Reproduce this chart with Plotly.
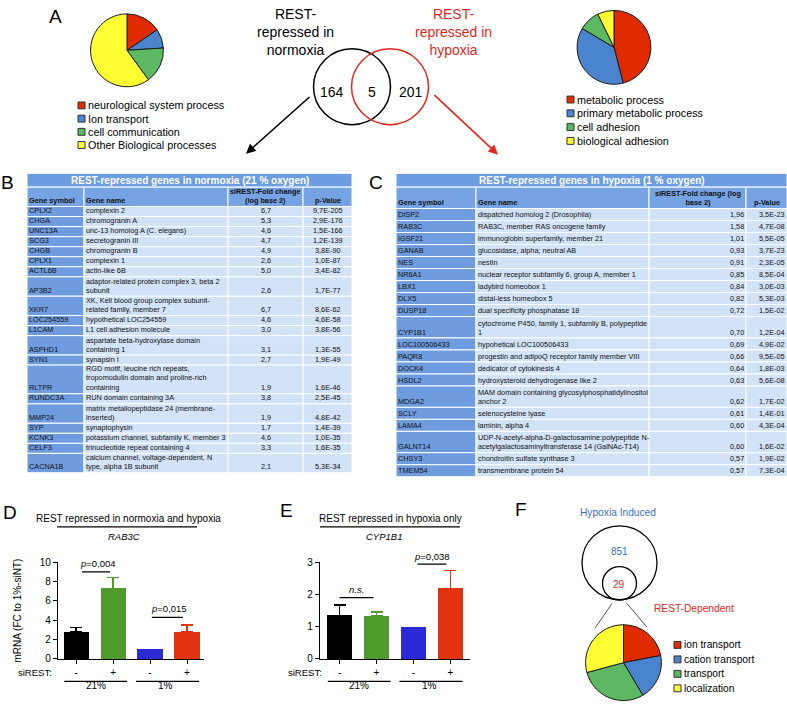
import plotly.graph_objects as go

W, H = 787, 708
FONT = "Liberation Sans, Arial, Helvetica, sans-serif"

# ---------------- data ----------------
a_left_labels = ["neurological system process", "Ion transport", "cell communication", "Other Biological processes"]
a_left_values = [15.5, 8.5, 16.0, 60.0]
a_right_labels = ["metabolic process", "primary metabolic process", "cell adhesion", "biological adhesion"]
a_right_values = [46.0, 37.5, 9.3, 7.2]
venn_counts = [164, 5, 201]

b_title = "REST-repressed genes in normoxia (21 % oxygen)"
b_header = ["Gene symbol", "Gene name", "siREST-Fold change<br>(log base 2)", "p-Value"]
b_symbols = ["CPLX2", "CHGA", "UNC13A", "SCG3", "CHGB", "CPLX1", "ACTL6B", "AP3B2", "XKR7", "LOC254559",
             "L1CAM", "ASPHD1", "SYN1", "RLTPR", "RUNDC3A", "MMP24", "SYP", "KCNK3", "CELF3", "CACNA1B"]
b_names = ["complexin 2", "chromogranin A", "unc-13 homolog A (C. elegans)", "secretogranin III",
           "chromogranin B", "complexin 1", "actin-like 6B",
           "adaptor-related protein complex 3, beta 2<br>subunit",
           "XK, Kell blood group complex subunit-<br>related family, member 7",
           "hypothetical LOC254559", "L1 cell adhesion molecule",
           "aspartate beta-hydroxylase domain<br>containing 1", "synapsin I",
           "RGD motif, leucine rich repeats,<br>tropomodulin domain and proline-rich<br>containing",
           "RUN domain containing 3A", "matrix metallopeptidase 24 (membrane-<br>inserted)",
           "synaptophysin", "potassium channel, subfamily K, member 3",
           "trinucleotide repeat containing 4",
           "calcium channel, voltage-dependent, N<br>type, alpha 1B subunit"]
b_fc = ["6,7", "5,3", "4,6", "4,7", "4,9", "2,6", "5,0", "2,6", "6,7", "4,6",
        "3,0", "3,1", "2,7", "1,9", "3,8", "1,9", "1,7", "4,6", "3,3", "2,1"]
b_p = ["9,7E-205", "2,9E-176", "1,5E-166", "1,2E-139", "3,8E-90", "1,0E-87", "3,4E-82", "1,7E-77",
       "8,6E-62", "4,6E-58", "3,8E-56", "1,3E-55", "1,9E-49", "1,6E-46", "2,5E-45", "4,8E-42",
       "1,4E-39", "1,0E-35", "1,6E-35", "5,3E-34"]

c_title = "REST-repressed genes in hypoxia (1 % oxygen)"
c_header = ["Gene symbol", "Gene name", "siREST-Fold change (log<br>base 2)", "p-Value"]
c_symbols = ["DISP2", "RAB3C", "IGSF21", "GANAB", "NES", "NR6A1", "LBX1", "DLX5", "DUSP18", "CYP1B1",
             "LOC100506433", "PAQR8", "DOCK4", "HSDL2", "MDGA2", "SCLY", "LAMA4", "GALNT14", "CHSY3", "TMEM54"]
c_names = ["dispatched homolog 2 (Drosophila)", "RAB3C, member RAS oncogene family",
           "immunoglobin superfamily, member 21", "glucosidase, alpha; neutral AB", "nestin",
           "nuclear receptor subfamily 6, group A, member 1", "ladybird homeobox 1",
           "distal-less homeobox 5", "dual specificity phosphatase 18",
           "cytochrome P450, family 1, subfamily B, polypeptide<br>1",
           "hypohetical LOC100506433", "progestin and adipoQ receptor family member VIII",
           "dedicator of cytokinesis 4", "hydroxysteroid dehydrogenase like 2",
           "MAM domain containing glycosylphosphatidylinositol<br>anchor 2",
           "selenocysteine lyase", "laminin, alpha 4",
           "UDP-N-acetyl-alpha-D-galactosamine:polypeptide N-<br>acetylgalactosaminyltransferase 14 (GalNAc-T14)",
           "chondroitin sulfate synthase 3", "transmembrane protein 54"]
c_fc = ["1,96", "1,58", "1,01", "0,93", "0,91", "0,85", "0,84", "0,82", "0,72", "0,70",
        "0,69", "0,66", "0,64", "0,63", "0,62", "0,61", "0,60", "0,60", "0,57", "0,57"]
c_p = ["3,5E-23", "4,7E-08", "5,5E-05", "3,7E-23", "2,3E-05", "8,5E-04", "3,0E-03", "5,3E-03",
       "1,5E-02", "1,2E-04", "4,9E-02", "9,5E-05", "1,8E-03", "5,6E-08", "1,7E-02", "1,4E-01",
       "4,3E-04", "1,6E-02", "1,9E-02", "7,3E-04"]

bar_siREST = ["-", "+", "-", "+"]
bar_groups = ["21%", "1%"]
d_values = [2.8, 7.3, 1.0, 2.8]
d_errors = [0.45, 1.1, None, 0.7]
e_values = [1.35, 1.34, 1.0, 2.18]
e_errors = [0.33, 0.12, None, 0.57]

f_counts = [851, 29]
f_labels = ["ion transport", "cation transport", "transport", "localization"]
f_values = [22.0, 19.5, 29.3, 29.2]

# ---------------- styles ----------------
PIE_COLORS = ["#E02B00", "#4A84CF", "#5DB862", "#FFFF33"]
BAR_COLORS = ["#000000", "#4F9B2D", "#2A2AD6", "#E0330E"]
TBL_TITLE = "#6C9CE2"
TBL_HEAD = "#76A3E3"
TBL_SYM = "#6F9CDE"
TBL_LIGHT = "#D2E2F7"
RED = "#E8261C"
BLUE_TXT = "#3D6FC8"
TBL_FS = 7.3
LINE_H = 1.3 * TBL_FS  # plotly line spacing for multi-line text


def px(x):
    return x / W


def py(y):
    return 1 - y / H


shapes = []
anns = []


def text(x, y, s, size=10, color="black", xanchor="center", yanchor="middle", **kw):
    anns.append(dict(x=px(x), y=py(y), xref="paper", yref="paper", text=s, showarrow=False,
                     font=dict(size=size, color=color, family=FONT), xanchor=xanchor,
                     yanchor=yanchor, borderpad=0, **kw))


def circle(cx, cy, r, color, width=1.5):
    shapes.append(dict(type="circle", xref="paper", yref="paper", x0=px(cx - r), x1=px(cx + r),
                       y0=py(cy + r), y1=py(cy - r), line=dict(color=color, width=width)))


def pline(x0, y0, x1, y1, color="black", width=1):
    shapes.append(dict(type="line", xref="paper", yref="paper", x0=px(x0), y0=py(y0), x1=px(x1),
                       y1=py(y1), line=dict(color=color, width=width)))


def prect(x0, y0, x1, y1, fill, line_color="white", lw=1):
    shapes.append(dict(type="rect", xref="paper", yref="paper", x0=px(x0), x1=px(x1),
                       y0=py(y1), y1=py(y0), fillcolor=fill, line=dict(color=line_color, width=lw),
                       layer="below"))


def pie(labels, values, cx, cy, r):
    return go.Pie(labels=labels, values=values, sort=False, direction="clockwise", rotation=0,
                  marker=dict(colors=PIE_COLORS, line=dict(color="#1a1a1a", width=1)),
                  textinfo="none", showlegend=False, hoverinfo="label+percent",
                  domain=dict(x=[px(cx - r), px(cx + r)], y=[py(cy + r), py(cy - r)]))


def legend(labels, x, y0, dy, size=10, sq=7):
    for i, lab in enumerate(labels):
        y = y0 + i * dy
        shapes.append(dict(type="rect", xref="paper", yref="paper", x0=px(x), x1=px(x + sq),
                           y0=py(y + sq / 2), y1=py(y - sq / 2), fillcolor=PIE_COLORS[i],
                           line=dict(color="#333", width=1)))
        text(x + sq + 1.5, y, lab, size=size, xanchor="left")


def draw_table(edges, top, title, header, cols, aligns, base):
    x0, x1 = edges[0], edges[-1]
    prect(x0, top, x1, top + 14, TBL_TITLE)
    text((x0 + x1) / 2, top + 7.5, "<b>" + title + "</b>", size=10, color="white")
    rows = [header] + [list(r) for r in zip(*cols)]
    y = top + 14
    for ri, row in enumerate(rows):
        n = max(str(v).count("<br>") + 1 for v in row)
        h = base + LINE_H * (n - 1)
        for ci, cell in enumerate(row):
            cx0, cx1 = edges[ci], edges[ci + 1]
            if ri == 0:
                fill = TBL_HEAD
                al = "left" if ci < 2 else "center"
                cell = "<br>".join("<b>" + s + "</b>" for s in str(cell).split("<br>"))
            else:
                fill = TBL_SYM if ci == 0 else TBL_LIGHT
                al = aligns[ci]
            prect(cx0, y, cx1, y + h, fill)
            if al == "left":
                tx, xa = cx0 + 1.3, "left"
            elif al == "right":
                tx, xa = cx1 - 1.3, "right"
            else:
                tx, xa = (cx0 + cx1) / 2, "center"
            text(tx, y + h - 0.4, cell, size=TBL_FS, color="#111", xanchor=xa,
                 yanchor="bottom", align=al)
        y += h


fig = go.Figure()

# ---------------- Panel A ----------------
text(55, 11, "A", size=19)
fig.add_trace(pie(a_left_labels, a_left_values, 127, 45, 37))
legend(a_left_labels, 78, 101, 13.4, size=10.8)
fig.add_trace(pie(a_right_labels, a_right_values, 614, 42, 37.5))
legend(a_right_labels, 567, 95, 14, size=10.8)

circle(352, 82, 38.5, "black")
circle(390, 82, 38.5, RED)
text(295, 26, "REST-<br>repressed in<br>normoxia", size=14)
text(453, 26, "REST-<br>repressed in<br>hypoxia", size=14, color=RED)
text(332, 87, str(venn_counts[0]), size=14)
text(372, 87, str(venn_counts[1]), size=14)
text(411, 87, str(venn_counts[2]), size=14)
anns.append(dict(x=px(246), y=py(150), xref="paper", yref="paper", ax=65, ay=-58, text="",
                 showarrow=True, arrowhead=2, arrowsize=1.2, arrowwidth=1.6, arrowcolor="black"))
anns.append(dict(x=px(498), y=py(151), xref="paper", yref="paper", ax=-65, ay=-61, text="",
                 showarrow=True, arrowhead=2, arrowsize=1.2, arrowwidth=1.6, arrowcolor=RED))

# ---------------- Tables B & C ----------------
text(7, 179, "B", size=19)
draw_table([27, 84, 228, 303, 352], 170, b_title, b_header, [b_symbols, b_names, b_fc, b_p],
           ["left", "left", "center", "center"], 10.2)
text(376, 179, "C", size=19)
draw_table([396, 476, 649, 746, 787], 170, c_title, c_header, [c_symbols, c_names, c_fc, c_p],
           ["left", "left", "right", "right"], 12.2)


# ---------------- Panels D & E ----------------
def bars(values, errors, xa, ya):
    for i, v in enumerate(values):
        err = errors[i]
        fig.add_trace(go.Bar(
            x=[i], y=[v], width=0.68, xaxis=xa, yaxis=ya, showlegend=False,
            marker=dict(color=BAR_COLORS[i], line=dict(width=0)),
            error_y=dict(type="data", array=[err if err is not None else 0], arrayminus=[0],
                         symmetric=False, visible=err is not None, color=BAR_COLORS[i],
                         thickness=1.5, width=6)))


bars(d_values, d_errors, "x", "y")
bars(e_values, e_errors, "x2", "y2")

axis_common = dict(showline=True, linecolor="black", linewidth=1.3, ticks="outside", ticklen=4,
                   tickwidth=1.2, tickcolor="black", showgrid=False, zeroline=False,
                   tickfont=dict(size=10, family=FONT, color="black"))

xD = dict(axis_common, domain=[px(58), px(204)], range=[-0.49, 3.46], anchor="y",
          tickvals=[0, 1, 2, 3], ticktext=bar_siREST)
yD = dict(axis_common, domain=[py(663.3), py(565)], range=[0, 10], anchor="x",
          tickvals=[0, 2, 4, 6, 8, 10],
          title=dict(text="mRNA (FC to 1%-siNT)", font=dict(size=10, family=FONT), standoff=16))
xE = dict(axis_common, domain=[px(320), px(470)], range=[-0.53, 3.53], anchor="y2",
          tickvals=[0, 1, 2, 3], ticktext=bar_siREST)
yE = dict(axis_common, domain=[py(663.3), py(565)], range=[0, 3], anchor="x2",
          tickvals=[0, 1, 2, 3])


def bracket(xa, ya, x0, x1, y, label, label_y, label_x):
    shapes.append(dict(type="line", xref=xa, yref=ya, x0=x0, x1=x1, y0=y, y1=y,
                       line=dict(color="black", width=1.3)))
    anns.append(dict(x=label_x, y=label_y, xref=xa, yref=ya, text=label, showarrow=False,
                     font=dict(size=9.5, family=FONT, color="black"), yanchor="bottom", borderpad=0))


def group_lines(xa, panel_y):
    for g, (a, b) in enumerate([(-0.32, 1.38), (1.62, 3.33)]):
        shapes.append(dict(type="line", xref=xa, yref="paper", x0=a, x1=b, y0=py(panel_y),
                           y1=py(panel_y), line=dict(color="black", width=1.3)))
        anns.append(dict(x=(a + b) / 2 - 0.05 * g, y=py(panel_y + 11), xref=xa, yref="paper",
                         text=bar_groups[g], showarrow=False, borderpad=0,
                         font=dict(size=10, family=FONT, color="black")))


# D
text(10, 514, "D", size=19)
text(128, 521, "REST repressed in normoxia and hypoxia", size=10)
pline(57, 529, 197, 529, width=1.3)
text(124, 539, "<i>RAB3C</i>", size=9.5)
bracket("x", "y", 0.16, 0.92, 9.0, "<i>p</i>=0,004", 9.2, 0.6)
bracket("x", "y", 2.05, 2.89, 4.3, "<i>p</i>=0,015", 4.5, 2.5)
text(53, 677, "siREST:", size=9.5, xanchor="right")
group_lines("x", 686)

# E
text(286, 512, "E", size=19)
text(390, 521, "REST repressed in hypoxia only", size=10)
pline(320, 529, 460, 529, width=1.3)
text(384, 539, "<i>CYP1B1</i>", size=9.5)
bracket("x2", "y2", 0.0, 0.92, 1.9, "<i>n.s.</i>", 1.95, 0.47)
bracket("x2", "y2", 2.11, 2.89, 2.94, "<i>p</i>=0,038", 2.99, 2.5)
text(323, 677, "siREST:", size=9.5, xanchor="right")
group_lines("x2", 686)

# ---------------- Panel F ----------------
text(521, 511, "F", size=19)
text(618, 514, "Hypoxia Induced", size=10.2, color=BLUE_TXT)
circle(619.5, 565.5, 37.5, "black", 1.3)
circle(619.5, 586.5, 17, "black", 1.3)
text(619, 554, str(f_counts[0]), size=10, color=BLUE_TXT)
text(619, 588, str(f_counts[1]), size=10, color=RED)
pline(612, 607, 595, 632, color="#555", width=1)
pline(627, 607, 647, 631, color="#555", width=1)
text(694, 612, "REST-Dependent", size=10.2, color=RED)
fig.add_trace(pie(f_labels, f_values, 623.5, 667, 38.5))
legend(f_labels, 674, 649, 14.7, size=10.2)

fig.update_layout(
    width=W, height=H, margin=dict(l=0, r=0, t=0, b=0, pad=0), paper_bgcolor="white",
    plot_bgcolor="white", showlegend=False, shapes=shapes, annotations=anns,
    font=dict(family=FONT, color="black"), bargap=0,
    xaxis=xD, yaxis=yD, xaxis2=xE, yaxis2=yE,
)

fig.write_html("out.html", config={"displayModeBar": False},
               post_script="document.body.style.margin='0px';document.body.style.overflow='hidden';")
